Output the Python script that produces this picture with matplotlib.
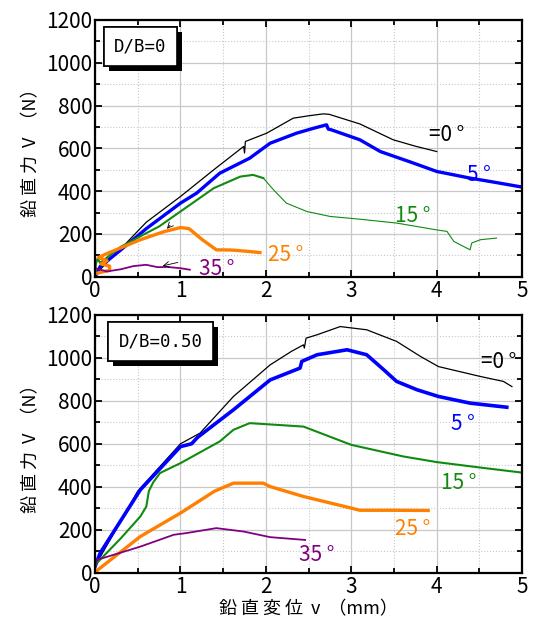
import matplotlib
matplotlib.use("Agg")
import matplotlib.pyplot as plt
import matplotlib.patheffects as pe
from matplotlib.ticker import MultipleLocator

plt.rcParams['font.family'] = ['Noto Sans CJK JP', 'DejaVu Sans']

# ---- D/B = 0 (top) ----
top_0_x = [0.0, 0.05, 0.3, 0.6, 1.0, 1.39, 1.74, 1.75, 1.76, 2.01, 2.32, 2.5, 2.67, 2.74, 3.1, 3.49, 3.75, 4.0]
top_0_y = [0, 30, 130, 255, 375, 500, 609, 578, 632, 671, 741, 752, 761, 759, 714, 640, 610, 585]

top_5_x = [0.0, 0.06, 0.3, 0.6, 1.0, 1.19, 1.46, 1.81, 2.05, 2.36, 2.56, 2.71, 2.73, 2.77, 3.1, 3.34, 3.7, 4.0, 4.39, 4.7, 5.0]
top_5_y = [0, 48, 125, 225, 344, 391, 484, 554, 624, 671, 694, 710, 690, 686, 640, 585, 535, 492, 461, 440, 419]

top_15_x = [0.0, 0.01, 0.03, 0.06, 0.3, 0.6, 0.75, 1.0, 1.39, 1.70, 1.85, 1.97,
            2.09, 2.24, 2.48, 2.75, 3.1, 3.53, 4.0, 4.12, 4.20, 4.39, 4.41, 4.51, 4.70]
top_15_y = [0, 60, 85, 65, 140, 204, 235, 305, 414, 468, 476, 461,
            406, 344, 305, 282, 269, 251, 219, 212, 165, 126, 158, 173, 181]

top_25_x = [0.0, 0.17, 0.17, 0.07, 0.14, 0.04, 0.12, 0.3, 0.53, 0.8, 1.0, 1.1, 1.25, 1.42, 1.6, 1.81, 1.93]
top_25_y = [15, 30, 50, 60, 75, 90, 105, 135, 173, 210, 230, 225, 175, 126, 125, 118, 113]

top_35_x = [0.0, 0.14, 0.3, 0.45, 0.6, 0.73, 0.85, 1.0, 1.11]
top_35_y = [40, 25, 35, 50, 56, 45, 46, 40, 33]

# ---- D/B = 0.50 (bottom) ----
bot_0_x = [0.0, 0.02, 0.5, 1.0, 1.23, 1.62, 2.05, 2.3, 2.44, 2.45, 2.47, 2.6, 2.87, 3.18, 3.53, 3.81, 4.02, 4.51, 4.78, 4.88]
bot_0_y = [20, 45, 380, 600, 650, 820, 967, 1030, 1060, 1045, 1091, 1107, 1145, 1130, 1076, 1006, 959, 913, 890, 866]

bot_5_x = [0.0, 0.06, 0.53, 1.0, 1.13, 1.2, 1.62, 2.05, 2.4, 2.42, 2.6, 2.95, 3.18, 3.38, 3.53, 3.77, 4.02, 4.39, 4.82]
bot_5_y = [30, 92, 386, 587, 600, 630, 758, 897, 952, 983, 1014, 1037, 1014, 944, 890, 851, 820, 789, 770]

bot_15_x = [0.0, 0.02, 0.3, 0.53, 0.6, 0.63, 0.68, 0.76, 1.0, 1.46, 1.62, 1.81, 2.05, 2.44, 3.0, 3.61, 4.0, 4.5, 5.0]
bot_15_y = [30, 45, 160, 262, 308, 380, 420, 464, 510, 611, 665, 696, 690, 680, 595, 541, 515, 490, 466]

bot_25_x = [0.0, 0.02, 0.53, 1.0, 1.4, 1.62, 1.97, 2.05, 2.44, 3.0, 3.1, 3.5, 3.9]
bot_25_y = [5, 10, 169, 278, 380, 417, 417, 401, 355, 301, 291, 291, 290]

bot_35_x = [0.0, 0.02, 0.53, 0.92, 1.07, 1.42, 1.74, 2.05, 2.46]
bot_35_y = [30, 60, 122, 177, 185, 208, 192, 166, 153]

angle_labels = ['=0 °', '5 °', '15 °', '25 °', '35 °']
colors = ['black', '#0000ff', '#108a10', '#ff8000', '#800080']

top_lab_pos = [(4.12, 663), (4.49, 477), (3.72, 284), (2.23, 103), (1.42, 37)]
bot_lab_pos = [(4.72, 981), (4.31, 693), (4.26, 418), (3.72, 205), (2.60, 84)]

fig = plt.figure(figsize=(5.4, 6.22), dpi=100)
ax1 = fig.add_axes([0.176, 0.555, 0.791, 0.413])
ax2 = fig.add_axes([0.176, 0.079, 0.791, 0.415])


def style(ax, box_text, box_xy):
    ax.set_xlim(0, 5)
    ax.set_ylim(0, 1200)
    ax.xaxis.set_major_locator(MultipleLocator(1))
    ax.xaxis.set_minor_locator(MultipleLocator(0.5))
    ax.yaxis.set_major_locator(MultipleLocator(200))
    ax.yaxis.set_minor_locator(MultipleLocator(100))
    ax.grid(which='major', color='#c8c8c8', lw=0.9)
    ax.grid(which='minor', color='#c8c8c8', lw=0.8, ls=':')
    ax.set_axisbelow(True)
    ax.tick_params(which='both', direction='in', top=True, right=True,
                   width=1.3, labelsize=15, pad=2)
    ax.tick_params(which='major', length=5)
    ax.tick_params(which='minor', length=3.5)
    for s in ax.spines.values():
        s.set_linewidth(1.6)
    ax.set_ylabel('鉛 直 力  V  （N）', fontsize=13, labelpad=4)
    t = ax.text(box_xy[0], box_xy[1], box_text, transform=ax.transAxes,
                fontsize=12.5, family='DejaVu Sans Mono', va='top', ha='left',
                bbox=dict(boxstyle='square,pad=0.6', fc='white', ec='black', lw=1.2))
    t.get_bbox_patch().set_path_effects([
        pe.withSimplePatchShadow(offset=(3.5, -3.5), shadow_rgbFace='black', alpha=1.0),
        pe.Normal()])


style(ax1, 'D/B=0', (0.045, 0.93))
style(ax2, 'D/B=0.50', (0.055, 0.93))

# top curves
ax1.plot(top_0_x, top_0_y, color=colors[0], lw=0.9)
ax1.plot(top_5_x, top_5_y, color=colors[1], lw=2.4)
ax1.plot(top_15_x[:12], top_15_y[:12], color=colors[2], lw=1.5)
ax1.plot(top_15_x[11:], top_15_y[11:], color=colors[2], lw=0.8)
ax1.plot(top_25_x, top_25_y, color=colors[3], lw=2.4)
ax1.plot(top_35_x, top_35_y, color=colors[4], lw=1.3)
ax1.annotate('', xy=(0.76, 48), xytext=(1.0, 70),
             arrowprops=dict(arrowstyle='->', lw=0.6, color='black'))
ax1.annotate('', xy=(0.82, 215), xytext=(0.9, 250),
             arrowprops=dict(arrowstyle='->', lw=0.6, color='black'))

# bottom curves
ax2.plot(bot_0_x, bot_0_y, color=colors[0], lw=0.9)
ax2.plot(bot_5_x, bot_5_y, color=colors[1], lw=2.6)
ax2.plot(bot_15_x, bot_15_y, color=colors[2], lw=1.5)
ax2.plot(bot_25_x, bot_25_y, color=colors[3], lw=2.4)
ax2.plot(bot_35_x, bot_35_y, color=colors[4], lw=1.3)

for lab, c, p in zip(angle_labels, colors, top_lab_pos):
    ax1.text(p[0], p[1], lab, color=c, fontsize=15, ha='center', va='center')
for lab, c, p in zip(angle_labels, colors, bot_lab_pos):
    ax2.text(p[0], p[1], lab, color=c, fontsize=15, ha='center', va='center')

ax2.set_xlabel('鉛 直 変 位  v  （mm）', fontsize=13, labelpad=2)

fig.savefig('out.png', dpi=100)
